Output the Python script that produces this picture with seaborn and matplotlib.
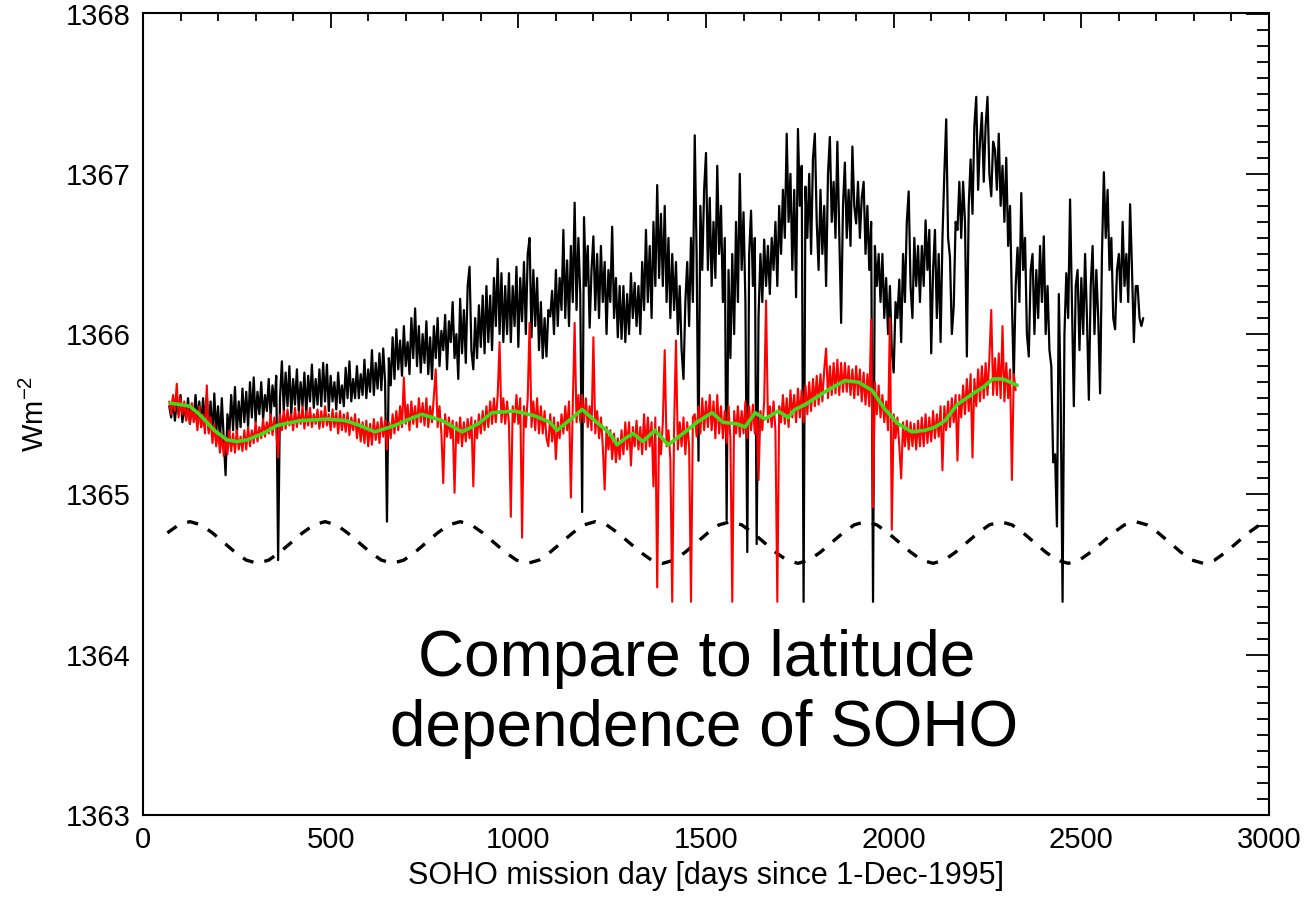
import matplotlib
matplotlib.use("Agg")
import matplotlib.pyplot as plt
import seaborn as sns
from matplotlib.ticker import MultipleLocator

# ---------------- data ----------------
black_days = list(range(70, 2666, 5))
black_vals = [
    1365.55, 1365.48, 1365.60, 1365.46, 1365.58, 1365.50, 1365.62, 1365.45, 1365.56, 1365.47, 1365.60, 1365.44, 1365.55, 1365.48, 1365.62, 1365.46, 1365.58, 1365.42, 1365.60, 1365.45,
    1365.62, 1365.40, 1365.58, 1365.36, 1365.63, 1365.38, 1365.55, 1365.33, 1365.60, 1365.35, 1365.12, 1365.50, 1365.38, 1365.62, 1365.40, 1365.67, 1365.38, 1365.58, 1365.42, 1365.66,
    1365.45, 1365.64, 1365.42, 1365.70, 1365.48, 1365.73, 1365.45, 1365.64, 1365.50, 1365.70, 1365.47, 1365.62, 1365.52, 1365.72, 1365.48, 1365.68, 1365.55, 1365.74, 1364.59, 1365.60,
    1365.83, 1365.52, 1365.76, 1365.55, 1365.80, 1365.50, 1365.72, 1365.56, 1365.78, 1365.52, 1365.70, 1365.55, 1365.76, 1365.50, 1365.74, 1365.58, 1365.81, 1365.54, 1365.72, 1365.56,
    1365.78, 1365.55, 1365.82, 1365.58, 1365.81, 1365.52, 1365.74, 1365.58, 1365.70, 1365.53, 1365.76, 1365.57, 1365.68, 1365.55, 1365.79, 1365.60, 1365.83, 1365.58, 1365.72, 1365.60,
    1365.80, 1365.60, 1365.75, 1365.62, 1365.84, 1365.60, 1365.78, 1365.64, 1365.90, 1365.62, 1365.82, 1365.66, 1365.88, 1365.65, 1365.91, 1365.70, 1364.83, 1365.85, 1365.68, 1365.98,
    1365.72, 1366.03, 1365.78, 1365.96, 1365.74, 1366.05, 1365.80, 1365.95, 1365.75, 1366.10, 1365.85, 1366.16, 1365.80, 1366.05, 1365.76, 1366.00, 1365.82, 1366.08, 1365.75, 1365.98,
    1365.72, 1366.05, 1365.85, 1366.10, 1365.80, 1366.02, 1365.90, 1366.12, 1365.78, 1366.08, 1365.95, 1366.20, 1365.85, 1366.00, 1365.72, 1366.22, 1365.88, 1366.15, 1365.82, 1366.30,
    1366.42, 1365.90, 1365.78, 1366.10, 1365.85, 1366.18, 1365.92, 1366.24, 1365.88, 1366.30, 1365.95, 1366.24, 1365.90, 1366.35, 1366.05, 1366.47, 1366.00, 1366.38, 1365.95, 1366.30,
    1366.00, 1366.38, 1365.95, 1366.30, 1366.05, 1366.42, 1365.92, 1366.35, 1366.08, 1366.45, 1366.00, 1366.50, 1366.60, 1365.98, 1366.40, 1366.05, 1366.35, 1365.90, 1366.20, 1365.85,
    1366.10, 1365.86, 1366.15, 1366.11, 1366.27, 1366.00, 1366.40, 1366.05, 1366.35, 1366.15, 1366.65, 1366.10, 1366.46, 1366.05, 1366.55, 1366.20, 1366.82, 1366.15, 1366.60, 1366.25,
    1364.89, 1366.73, 1366.30, 1366.55, 1366.04, 1366.40, 1366.61, 1366.15, 1366.50, 1366.10, 1366.55, 1366.20, 1366.45, 1366.00, 1366.40, 1366.20, 1366.67, 1366.10, 1366.35, 1365.98,
    1366.30, 1365.97, 1366.30, 1365.95, 1366.25, 1366.00, 1366.38, 1366.10, 1366.32, 1366.05, 1366.30, 1366.00, 1366.45, 1366.15, 1366.65, 1366.20, 1366.55, 1366.10, 1366.70, 1366.30,
    1366.93, 1366.35, 1366.75, 1366.30, 1366.80, 1366.20, 1366.60, 1366.10, 1366.50, 1366.15, 1366.45, 1366.00, 1366.30, 1365.90, 1365.72, 1366.20, 1366.45, 1366.05, 1366.60, 1366.20,
    1367.24, 1366.50, 1365.21, 1366.80, 1366.40, 1366.90, 1367.13, 1366.40, 1366.85, 1366.30, 1366.70, 1366.35, 1367.05, 1366.50, 1366.80, 1366.20, 1366.60, 1364.84, 1366.40, 1365.85,
    1366.50, 1366.00, 1366.70, 1366.20, 1367.00, 1366.40, 1366.76, 1366.20, 1364.64, 1366.50, 1366.77, 1366.30, 1366.60, 1364.69, 1366.11, 1366.50, 1366.20, 1366.59, 1366.30, 1366.55,
    1366.25, 1366.60, 1366.40, 1366.70, 1366.30, 1366.80, 1366.50, 1366.90, 1366.60, 1367.25, 1366.70, 1367.00, 1366.40, 1366.90, 1366.23, 1367.28, 1366.80, 1367.05, 1364.33, 1366.92,
    1366.60, 1367.00, 1366.50, 1367.10, 1367.25, 1366.70, 1366.40, 1366.90, 1366.50, 1366.80, 1366.30, 1367.00, 1367.23, 1366.70, 1366.95, 1366.60, 1367.20, 1366.65, 1366.07, 1366.80,
    1367.07, 1366.60, 1366.90, 1366.55, 1367.17, 1366.80, 1366.69, 1366.95, 1366.60, 1366.85, 1366.95, 1366.50, 1366.80, 1366.40, 1366.70, 1364.33, 1366.55, 1366.30, 1366.50, 1366.20,
    1366.50, 1366.10, 1366.35, 1366.00, 1366.30, 1365.90, 1365.76, 1366.20, 1366.10, 1366.34, 1365.95, 1366.50, 1366.20, 1366.70, 1366.89, 1366.30, 1366.10, 1366.60, 1366.30, 1366.55,
    1366.20, 1366.55, 1366.30, 1366.71, 1366.40, 1366.65, 1365.88, 1366.40, 1366.65, 1366.10, 1366.50, 1365.95, 1366.60, 1367.00, 1367.34, 1366.60, 1366.48, 1366.00, 1366.17, 1366.70,
    1366.65, 1366.95, 1366.60, 1366.95, 1366.70, 1365.86, 1366.80, 1367.09, 1366.75, 1367.30, 1367.48, 1366.90, 1367.20, 1367.38, 1366.95, 1367.30, 1367.48, 1367.00, 1366.86, 1367.20,
    1367.15, 1366.90, 1367.25, 1366.80, 1367.05, 1366.70, 1367.10, 1366.55, 1366.80, 1366.20, 1365.71, 1366.30, 1366.54, 1366.20, 1366.88, 1366.40, 1366.60, 1366.00, 1365.86, 1366.40,
    1366.50, 1366.00, 1366.40, 1366.10, 1366.55, 1366.20, 1366.61, 1366.00, 1366.30, 1365.90, 1365.80, 1365.20, 1365.25, 1364.80, 1366.25, 1365.60, 1364.33, 1366.00, 1366.38, 1366.10,
    1366.84, 1366.20, 1365.55, 1366.30, 1366.40, 1365.90, 1366.35, 1366.00, 1366.50, 1366.10, 1365.59, 1366.30, 1366.55, 1366.00, 1366.40, 1366.10, 1365.63, 1366.50, 1367.01, 1366.60,
    1366.90, 1366.40, 1366.60, 1366.10, 1366.03, 1366.40, 1366.50, 1366.20, 1366.70, 1366.30, 1366.50, 1366.20, 1366.81, 1366.40, 1365.95, 1366.30, 1366.30, 1366.10, 1366.05, 1366.10,
]

red_days = list(range(70, 2326, 5))
red_vals = [
    1365.58, 1365.50, 1365.62, 1365.52, 1365.69, 1365.48, 1365.60, 1365.50, 1365.58, 1365.46, 1365.55, 1365.44, 1365.57, 1365.45, 1365.52, 1365.40, 1365.55, 1365.42, 1365.50, 1365.38,
    1365.68, 1365.38, 1365.48, 1365.32, 1365.44, 1365.30, 1365.40, 1365.26, 1365.38, 1365.24, 1365.36, 1365.25, 1365.40, 1365.27, 1365.38, 1365.26, 1365.40, 1365.28, 1365.36, 1365.27,
    1365.40, 1365.28, 1365.42, 1365.30, 1365.40, 1365.32, 1365.45, 1365.33, 1365.42, 1365.35, 1365.47, 1365.36, 1365.45, 1365.38, 1365.50, 1365.37, 1365.48, 1365.40, 1365.23, 1365.50,
    1365.40, 1365.52, 1365.41, 1365.53, 1365.43, 1365.50, 1365.40, 1365.54, 1365.42, 1365.51, 1365.44, 1365.55, 1365.41, 1365.52, 1365.43, 1365.54, 1365.42, 1365.50, 1365.44, 1365.53,
    1365.41, 1365.52, 1365.42, 1365.55, 1365.43, 1365.50, 1365.40, 1365.53, 1365.42, 1365.51, 1365.38, 1365.52, 1365.40, 1365.50, 1365.39, 1365.51, 1365.37, 1365.48, 1365.40, 1365.50,
    1365.35, 1365.47, 1365.33, 1365.45, 1365.32, 1365.46, 1365.30, 1365.44, 1365.31, 1365.47, 1365.34, 1365.45, 1365.32, 1365.48, 1365.36, 1365.46, 1365.28, 1365.45, 1365.35, 1365.50,
    1365.38, 1365.52, 1365.40, 1365.55, 1365.42, 1365.73, 1365.44, 1365.56, 1365.40, 1365.58, 1365.44, 1365.55, 1365.42, 1365.60, 1365.45, 1365.57, 1365.43, 1365.60, 1365.42, 1365.55,
    1365.45, 1365.62, 1365.78, 1365.42, 1365.55, 1365.38, 1365.07, 1365.50, 1365.36, 1365.48, 1365.35, 1365.46, 1365.01, 1365.45, 1365.32, 1365.48, 1365.30, 1365.45, 1365.33, 1365.47,
    1365.35, 1365.48, 1365.05, 1365.46, 1365.35, 1365.50, 1365.38, 1365.52, 1365.40, 1365.55, 1365.42, 1365.58, 1365.44, 1365.60, 1365.45, 1365.62, 1365.95, 1365.45, 1365.60, 1365.44,
    1365.58, 1365.44, 1364.86, 1365.55, 1365.45, 1365.62, 1365.44, 1365.60, 1364.73, 1365.55, 1365.42, 1365.60, 1366.07, 1365.42, 1365.58, 1365.40, 1365.60, 1365.38, 1365.55, 1365.38,
    1365.52, 1365.35, 1365.30, 1365.50, 1365.33, 1365.48, 1365.22, 1365.45, 1365.35, 1365.50, 1365.38, 1365.55, 1365.40, 1365.58, 1364.98, 1365.55, 1366.07, 1365.45, 1365.62, 1365.45,
    1365.62, 1365.45, 1365.60, 1365.42, 1365.55, 1365.40, 1365.98, 1365.38, 1365.52, 1365.35, 1365.48, 1365.30, 1365.03, 1365.42, 1365.28, 1365.40, 1365.22, 1365.38, 1365.20, 1365.35,
    1365.22, 1365.40, 1365.25, 1365.45, 1365.28, 1365.45, 1365.18, 1365.42, 1365.30, 1365.46, 1365.28, 1365.42, 1365.25, 1365.50, 1365.28, 1365.48, 1365.30, 1365.45, 1365.05, 1365.48,
    1364.42, 1365.42, 1365.25, 1365.45, 1365.90, 1365.30, 1365.40, 1365.22, 1364.33, 1365.42, 1365.96, 1365.28, 1365.45, 1365.30, 1365.48, 1365.25, 1365.45, 1365.30, 1364.33, 1365.48,
    1365.50, 1365.36, 1365.55, 1365.38, 1365.60, 1365.40, 1365.58, 1365.42, 1365.62, 1365.40, 1365.58, 1365.35, 1365.62, 1365.38, 1365.55, 1365.35, 1365.52, 1365.32, 1365.55, 1365.35,
    1364.33, 1365.52, 1365.38, 1365.55, 1365.36, 1365.52, 1365.38, 1365.58, 1365.35, 1365.55, 1365.40, 1365.56, 1365.38, 1365.50, 1365.09, 1365.52, 1365.40, 1365.58, 1366.21, 1365.45,
    1365.55, 1365.42, 1365.58, 1365.40, 1364.33, 1365.55, 1365.45, 1365.62, 1365.44, 1365.60, 1365.42, 1365.65, 1365.48, 1365.62, 1365.45, 1365.66, 1365.48, 1365.65, 1365.45, 1365.68,
    1365.50, 1365.70, 1365.52, 1365.72, 1365.55, 1365.74, 1365.56, 1365.75, 1365.58, 1365.78, 1365.91, 1365.60, 1365.80, 1365.62, 1365.82, 1365.63, 1365.84, 1365.62, 1365.82, 1365.64,
    1365.82, 1365.64, 1365.80, 1365.62, 1365.78, 1365.60, 1365.80, 1365.62, 1365.78, 1365.58, 1365.76, 1365.56, 1365.75, 1365.55, 1366.09, 1364.92, 1365.70, 1365.50, 1365.68, 1365.48,
    1365.62, 1365.45, 1365.58, 1365.40, 1366.10, 1364.78, 1365.50, 1365.35, 1365.48, 1365.30, 1365.10, 1365.45, 1365.30, 1365.46, 1365.28, 1365.45, 1365.30, 1365.44, 1365.28, 1365.46,
    1365.30, 1365.48, 1365.30, 1365.50, 1365.32, 1365.48, 1365.33, 1365.52, 1365.35, 1365.50, 1365.36, 1365.55, 1365.15, 1365.55, 1365.40, 1365.58, 1365.42, 1365.60, 1365.45, 1365.62,
    1365.21, 1365.62, 1365.48, 1365.68, 1365.50, 1365.72, 1365.52, 1365.75, 1365.23, 1365.72, 1365.55, 1365.78, 1365.58, 1365.80, 1365.60, 1365.82, 1365.62, 1365.85, 1366.15, 1365.62,
    1365.85, 1365.62, 1365.88, 1365.60, 1366.05, 1365.58, 1365.82, 1365.60, 1365.78, 1365.09, 1365.75, 1365.65,
]

green_days = [72, 100, 125, 150, 190, 224, 250, 277, 320, 357, 418, 490, 540, 578, 618,
              671, 710, 743, 797, 850, 893, 930, 991, 1044, 1084, 1103, 1140, 1170, 1199,
              1244, 1263, 1285, 1306, 1332, 1364, 1399, 1439, 1476, 1516, 1545, 1583, 1604,
              1631, 1657, 1692, 1719, 1737, 1764, 1817, 1870, 1906, 1942, 1977, 2012, 2049,
              2084, 2110, 2137, 2169, 2212, 2239, 2265, 2292, 2329]
green_vals = [1365.57, 1365.56, 1365.55, 1365.50, 1365.40, 1365.34, 1365.33, 1365.34, 1365.38,
              1365.43, 1365.46, 1365.47, 1365.46, 1365.43, 1365.39, 1365.43, 1365.47, 1365.50,
              1365.46, 1365.39, 1365.44, 1365.51, 1365.52, 1365.49, 1365.45, 1365.40, 1365.47,
              1365.53, 1365.47, 1365.38, 1365.31, 1365.35, 1365.38, 1365.33, 1365.40, 1365.31,
              1365.38, 1365.45, 1365.51, 1365.45, 1365.44, 1365.42, 1365.51, 1365.47, 1365.52,
              1365.48, 1365.53, 1365.56, 1365.64, 1365.71, 1365.70, 1365.65, 1365.53, 1365.44,
              1365.39, 1365.40, 1365.42, 1365.46, 1365.56, 1365.63, 1365.67, 1365.72, 1365.72,
              1365.68]

dash_days = list(range(65, 3006, 30))
dash_vals = [
    1364.76, 1364.81, 1364.83, 1364.81, 1364.76, 1364.70, 1364.64, 1364.59, 1364.57, 1364.59, 1364.64, 1364.70,
    1364.76, 1364.81, 1364.83, 1364.81, 1364.76, 1364.70, 1364.64, 1364.59, 1364.57, 1364.59, 1364.64, 1364.70,
    1364.76, 1364.81, 1364.83, 1364.81, 1364.76, 1364.70, 1364.64, 1364.59, 1364.57, 1364.59, 1364.64, 1364.70,
    1364.76, 1364.81, 1364.83, 1364.81, 1364.76, 1364.70, 1364.64, 1364.59, 1364.57, 1364.59, 1364.64, 1364.70,
    1364.76, 1364.81, 1364.83, 1364.81, 1364.76, 1364.70, 1364.64, 1364.59, 1364.57, 1364.59, 1364.64, 1364.70,
    1364.76, 1364.81, 1364.83, 1364.81, 1364.76, 1364.70, 1364.64, 1364.59, 1364.57, 1364.59, 1364.64, 1364.70,
    1364.76, 1364.81, 1364.83, 1364.81, 1364.76, 1364.70, 1364.64, 1364.59, 1364.57, 1364.59, 1364.64, 1364.70,
    1364.76, 1364.81, 1364.83, 1364.81, 1364.76, 1364.70, 1364.64, 1364.59, 1364.57, 1364.59, 1364.64, 1364.70,
    1364.76, 1364.81, 1364.83,
]

x_ticks = [0, 500, 1000, 1500, 2000, 2500, 3000]
y_ticks = [1363, 1364, 1365, 1366, 1367, 1368]
x_label = "SOHO mission day [days since 1-Dec-1995]"
y_label = "Wm$^{-2}$"
note_lines = ["Compare to latitude", "dependence of SOHO"]

# ---------------- style ----------------
sns.set_style("white")
plt.rcParams["font.family"] = ["Liberation Sans", "DejaVu Sans"]
plt.rcParams["mathtext.fontset"] = "custom"
plt.rcParams["mathtext.rm"] = "Liberation Sans"
plt.rcParams["mathtext.it"] = "Liberation Sans"
plt.rcParams["text.color"] = "black"

W, H = 1308, 897
fig = plt.figure(figsize=(W / 100, H / 100), dpi=100)
L, R, T, B = 143, 1269, 13.5, 815
ax = fig.add_axes([L / W, 1 - B / H, (R - L) / W, (B - T) / H])

sns.lineplot(x=black_days, y=black_vals, ax=ax, color="black", lw=1.6,
             estimator=None, sort=False, zorder=2)
sns.lineplot(x=red_days, y=red_vals, ax=ax, color="#ff0000", lw=1.5,
             estimator=None, sort=False, zorder=3)
sns.lineplot(x=green_days, y=green_vals, ax=ax, color="#3ddc1e", lw=2.6,
             estimator=None, sort=False, zorder=4)
sns.lineplot(x=dash_days, y=dash_vals, ax=ax, color="black", lw=2.4,
             estimator=None, sort=False, zorder=2)
ax.lines[-1].set_dashes((3.4, 3.4))

ax.set_xlim(0, 3000)
ax.set_ylim(1363, 1368)
ax.set_xticks(x_ticks)
ax.set_yticks(y_ticks)
ax.xaxis.set_minor_locator(MultipleLocator(100))
ax.yaxis.set_minor_locator(MultipleLocator(0.1))
ax.tick_params(which="both", direction="in", top=True, right=True,
               width=1.3, color="black", labelsize=21, labelcolor="black")
ax.tick_params(axis="x", which="major", length=11, pad=8)
ax.tick_params(axis="x", which="minor", length=6)
ax.tick_params(axis="y", which="major", length=16.5, pad=9)
ax.tick_params(axis="y", which="minor", length=8.5)
for s in ax.spines.values():
    s.set_visible(True)
    s.set_linewidth(1.5)
    s.set_color("black")

ax.set_xlabel(x_label, fontsize=22, color="black")
ax.set_ylabel(y_label, fontsize=21, color="black")
ax.xaxis.set_label_coords(0.5, -0.057)
ax.yaxis.set_label_coords(-0.083, 0.5)

fig.text(418 / W, 1 - 676 / H, note_lines[0], fontsize=46, ha="left",
         va="baseline", color="black")
fig.text(390 / W, 1 - 746 / H, note_lines[1], fontsize=46, ha="left",
         va="baseline", color="black")

fig.savefig("out.png", dpi=100, facecolor="white")
